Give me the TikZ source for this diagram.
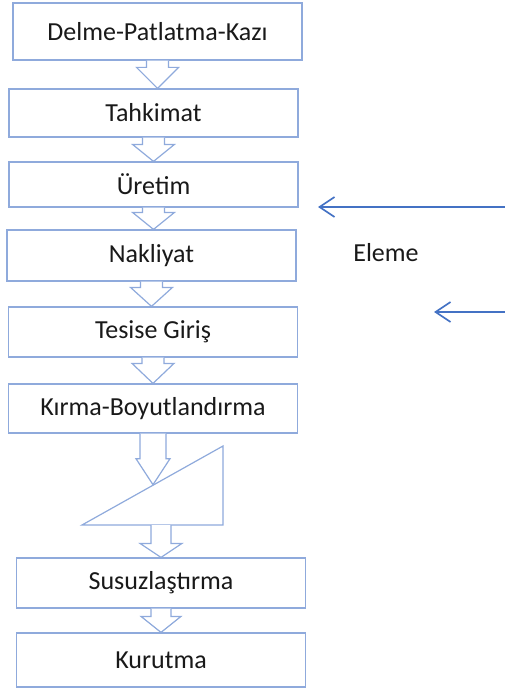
\documentclass[tikz,border=0pt]{standalone}
\usepackage{fontspec}
\setmainfont{Carlito}
\usetikzlibrary{arrows.meta,calc}
\definecolor{boxblue}{RGB}{143,170,220}
\definecolor{lineblue}{RGB}{68,114,196}
\definecolor{textgray}{RGB}{25,25,25}

% block arrow: start, tip, shaft half width, head half width, head length
\newcommand{\blockarrow}[5]{%
  \draw[blockarr] ($(#1)+(-#3,0)$) -- ($(#1|-#2)+(-#3,-#5)$) -- ($(#1|-#2)+(-#4,-#5)$)
    -- (#1|-#2) -- ($(#1|-#2)+(#4,-#5)$) -- ($(#1|-#2)+(#3,-#5)$) -- ($(#1)+(#3,0)$);}

\begin{document}
\begin{tikzpicture}[
  x=1pt,y=-1pt,
  every node/.style={font=\fontsize{26}{30}\selectfont,text=textgray},
  stepbox/.style={draw=boxblue,line width=1.2pt,fill=white,minimum width=289pt,align=center},
  blockarr/.style={draw=boxblue,line width=1.2pt,fill=white},
  feedarr/.style={draw=lineblue,line width=1.7pt,-{Straight Barb[length=15pt,width=20pt]}}
]
\useasboundingbox (0,0) rectangle (505,690);
% process steps
\node[stepbox,minimum height=57pt] (kazi) at (157.5,31.5) {Delme-Patlatma-Kazı};
\node[stepbox,minimum height=48pt] (tahkimat) at (153.5,113) {Tahkimat};
\node[stepbox,minimum height=45pt] (uretim) at (153.5,184.5) {Üretim};
\node[stepbox,minimum height=51pt] (nakliyat) at (151.5,255.5) {Nakliyat};
\node[stepbox,minimum height=50pt] (tesis) at (153,332) {Tesise Giriş};
\node[stepbox,minimum height=49pt] (kirma) at (153,408.5) {Kırma-Boyutlandırma};
\node[stepbox,minimum height=50pt] (susuz) at (161,583) {Susuzlaştırma};
\node[stepbox,minimum height=54pt] (kurutma) at (161,660) {Kurutma};
% screen
\coordinate (tri-a) at (82,525);
\coordinate (tri-b) at (223,525);
\coordinate (tri-c) at (223,446);
\draw[blockarr] (tri-a) -- (tri-b) -- (tri-c) -- cycle;
\coordinate (tri-hit) at ($(tri-a)!0.51!(tri-c)$);
\coordinate (tri-out) at (161,525);
% block arrows
\blockarrow{kazi.south}{tahkimat.north}{11}{21}{21}
\blockarrow{tahkimat.south}{uretim.north}{11}{21}{17}
\blockarrow{uretim.south}{nakliyat.north}{11}{21}{17}
\blockarrow{nakliyat.south}{tesis.north}{11}{21}{19}
\blockarrow{tesis.south}{kirma.north}{11}{21}{20}
\blockarrow{kirma.south}{tri-hit}{13}{17}{26}
\blockarrow{tri-out}{susuz.north}{10}{21}{14}
\blockarrow{susuz.south}{kurutma.north}{10}{20}{16}
% screening feed
\node (eleme) at (386,253) {Eleme};
\coordinate (feed1) at (505,207);
\coordinate (feed1end) at (318,207);
\coordinate (feed2) at (505,312);
\coordinate (feed2end) at (434,312);
\draw[feedarr] (feed1) -- (feed1end);
\draw[feedarr] (feed2) -- (feed2end);
\end{tikzpicture}
\end{document}
